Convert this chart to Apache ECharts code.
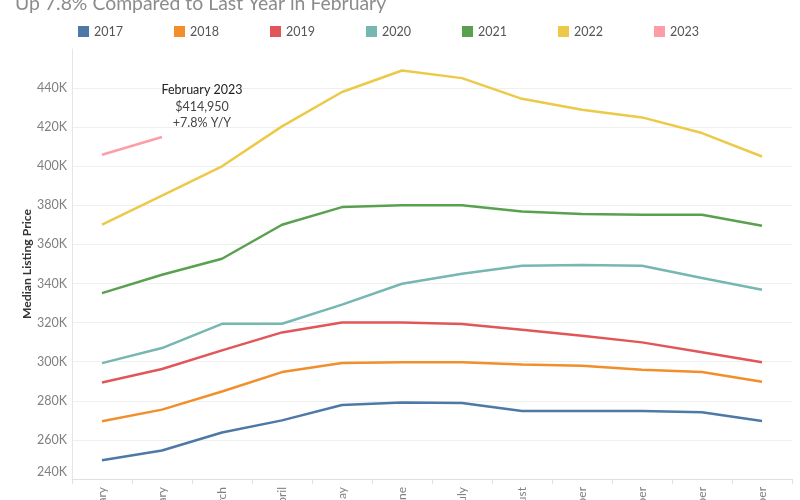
<!DOCTYPE html>
<html><head><meta charset="utf-8">
<script src="https://cdn.jsdelivr.net/npm/echarts@6/dist/echarts.min.js"></script>
<style>html,body{margin:0;padding:0;background:#fff}#c{width:800px;height:500px}</style>
</head><body><div id="c"></div>
<script>
const titleText = 'Up 7.8% Compared to Last Year in February';
const months = ['January','February','March','April','May','June','July','August','September','October','November','December'];
const years = ['2017','2018','2019','2020','2021','2022','2023'];
const colors = ['#4e79a7','#f28e2b','#e15759','#76b7b2','#59a14f','#edc948','#ff9da7'];
const s2017 = [249600, 254600, 263800, 270000, 277900, 279200, 278900, 274800, 274800, 274800, 274100, 269700];
const s2018 = [269500, 275500, 284800, 294700, 299300, 299700, 299700, 298600, 298000, 295900, 294700, 289800];
const s2019 = [289400, 296300, 305800, 315000, 320100, 320100, 319300, 316400, 313300, 309900, 304800, 299700];
const s2020 = [299300, 307000, 319400, 319400, 329200, 339900, 345000, 349100, 349500, 349100, 342800, 336800];
const s2021 = [335100, 344500, 352700, 370100, 379100, 380100, 380000, 376900, 375600, 375200, 375200, 369600];
const s2022 = [370100, 385000, 400000, 420400, 438000, 449000, 445100, 434500, 428900, 425000, 417000, 405000];
const s2023 = [405900, 414950];
const yMin = 240000, yMax = 460000, yStep = 20000;
const seriesValues = [s2017, s2018, s2019, s2020, s2021, s2022, s2023];

const FONT = 'Lato, "Open Sans", sans-serif';
const annIdx = 1;
const annValue = s2023[annIdx];
const annPrev = s2022[annIdx];
const annPct = ((annValue / annPrev - 1) * 100).toFixed(1);
const annText = '{a|' + months[annIdx] + ' 2023}\n{b|$' + annValue.toLocaleString('en-US') + '}\n{b|+' + annPct + '% Y/Y}';

const series = years.map((y, i) => {
  const s = {
    name: y,
    type: 'line',
    symbol: 'none',
    silent: true,
    lineStyle: { width: 2.5, color: colors[i] },
    itemStyle: { color: colors[i] },
    z: 2 + i,
    data: seriesValues[i]
  };
  if (y === '2023') {
    s.markPoint = {
      silent: true,
      symbol: 'circle', symbolSize: 1,
      itemStyle: { color: 'rgba(0,0,0,0)' },
      data: [{
        coord: [annIdx, annValue],
        label: {
          show: true, position: 'top', distance: 5, offset: [40, 0],
          formatter: annText,
          rich: {
            a: { fontFamily: FONT, fontSize: 12.5, color: '#222', lineHeight: 16.5, align: 'center' },
            b: { fontFamily: FONT, fontSize: 12.5, color: '#444', lineHeight: 16.5, align: 'center' }
          }
        }
      }]
    };
  }
  return s;
});

const legends = years.map((y, i) => ({
  data: [y], left: 78 + 96 * i, top: 25, itemWidth: 11, itemHeight: 11, itemGap: 0,
  icon: 'rect', selectedMode: false, padding: 0,
  textStyle: { fontFamily: FONT, fontSize: 12.5, color: '#555' },
  itemStyle: { borderWidth: 0 }
}));

const chart = echarts.init(document.getElementById('c'), null, { renderer: 'canvas' });
chart.setOption({
  animation: false,
  backgroundColor: '#fff',
  color: colors,
  title: {
    text: titleText, left: 10, top: -11,
    textStyle: { fontFamily: FONT, fontSize: 19.4, fontWeight: 'normal', color: '#8c8c8c' }
  },
  legend: legends,
  grid: { left: 72, right: 8, top: 49, bottom: 21, containLabel: false, outerBoundsMode: 'none' },
  xAxis: {
    type: 'category', data: months, boundaryGap: true,
    axisLine: { show: true, lineStyle: { color: '#e0e0e0', width: 1 } },
    axisTick: { show: true, alignWithLabel: false, length: 5, lineStyle: { color: '#e0e0e0' } },
    axisLabel: { rotate: 90, margin: 8, fontFamily: FONT, fontSize: 12, color: '#808080', interval: 0 },
    splitLine: { show: false }
  },
  yAxis: {
    type: 'value', min: yMin, max: yMax, interval: yStep,
    name: 'Median Listing Price', nameLocation: 'middle', nameGap: 39, nameMoveOverlap: false,
    nameTextStyle: { fontFamily: FONT, fontSize: 12.2, fontWeight: 'bold', color: '#333' },
    axisLine: { show: true, lineStyle: { color: '#e6e6e6' } },
    axisTick: { show: false },
    axisLabel: {
      showMaxLabel: false, margin: 5, fontFamily: FONT, fontSize: 12.5, color: '#808080',
      formatter: v => v === yMin ? '{lo|' + (v/1000) + 'K}' : (v/1000) + 'K',
      rich: { lo: { fontFamily: FONT, fontSize: 12.5, color: '#808080', padding: [0,0,15,0] } }
    },
    splitLine: { show: true, showMaxLine: false, lineStyle: { color: '#efefef', width: 1 } }
  },
  series: series
});
</script></body></html>
